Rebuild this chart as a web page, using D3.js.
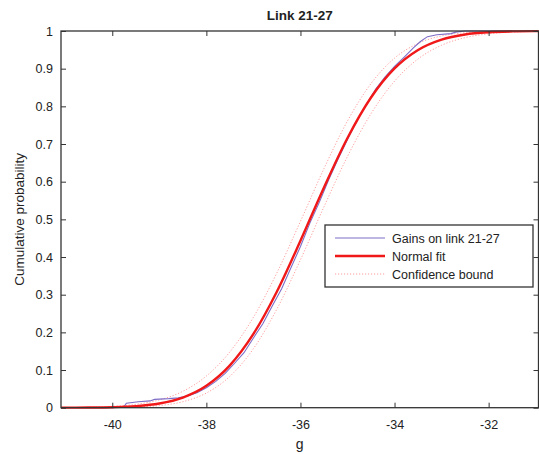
<!DOCTYPE html>
<html><head><meta charset="utf-8">
<script src="https://cdn.jsdelivr.net/npm/d3@7"></script>
<style>
body{margin:0;background:#fff;}
text{font-family:"Liberation Sans",Arial,sans-serif;fill:#222;}
</style></head>
<body><svg id="chart" width="539" height="454"></svg>
<script>
// ---- data ----
const titleText = "Link 21-27";
const xLabel = "g";
const yLabel = "Cumulative probability";
const xTicks = [-40, -38, -36, -34, -32];
const xTickLabels = ["-40", "-38", "-36", "-34", "-32"];
const yTicks = [0, 0.1, 0.2, 0.3, 0.4, 0.5, 0.6, 0.7, 0.8, 0.9, 1];
const yTickLabels = ["0", "0.1", "0.2", "0.3", "0.4", "0.5", "0.6", "0.7", "0.8", "0.9", "1"];
const legendLabels = ["Gains on link 21-27", "Normal fit", "Confidence bound"];

// grid of g values for the fitted curve and bounds
const fitG = [-41.5, -41, -40.5, -40, -39.5, -39, -38.5, -38, -37.5, -37, -36.5, -36, -35.5, -35, -34.5, -34, -33.5, -33, -32.5, -32, -31.5, -31, -30.5];
const fitP = [0.00002, 0.0001, 0.0004, 0.00135, 0.0041, 0.0111, 0.0269, 0.0581, 0.1124, 0.1957, 0.3085, 0.4432, 0.5848, 0.7161, 0.8235, 0.9007, 0.9498, 0.97725, 0.9908, 0.99668, 0.99893, 0.9997, 0.99992];
const lowerP = [0.000005, 0.00002, 0.00011, 0.00048, 0.00177, 0.0057, 0.0159, 0.0389, 0.0832, 0.1567, 0.2621, 0.3926, 0.5334, 0.6672, 0.7806, 0.8668, 0.9258, 0.9622, 0.9824, 0.99255, 0.99714, 0.999, 0.9997];
const upperP = [0.0001, 0.0004, 0.00124, 0.00349, 0.00889, 0.0206, 0.0435, 0.0841, 0.1482, 0.2401, 0.3582, 0.4947, 0.6348, 0.7613, 0.8605, 0.9279, 0.9672, 0.9869, 0.99545, 0.99862, 0.99964, 0.99992, 0.99999];

// empirical CDF (gains on link 21-27)
const empG = [-40.0, -39.75, -39.7, -39.45, -39.2, -39.1, -38.8, -38.6, -38.4, -38.2, -38.0, -37.8, -37.6, -37.4, -37.2, -37.0, -36.8, -36.6, -36.4, -36.2, -36.0, -35.8, -35.6, -35.4, -35.2, -35.0, -34.8, -34.6, -34.4, -34.2, -34.0, -33.8, -33.6, -33.45, -33.3, -33.1, -32.8, -32.7, -32.5, -31.5];
const empP = [0, 0.003, 0.012, 0.016, 0.018, 0.022, 0.024, 0.026, 0.031, 0.040, 0.053, 0.070, 0.091, 0.118, 0.146, 0.185, 0.223, 0.270, 0.316, 0.372, 0.428, 0.49, 0.545, 0.605, 0.66, 0.712, 0.762, 0.805, 0.846, 0.878, 0.906, 0.93, 0.955, 0.972, 0.985, 0.99, 0.993, 0.997, 1.0, 1.0];

// ---- layout ----
const svg = d3.select("#chart");
const L = 61, R = 538.5, T = 31, B = 407.7;
const x = d3.scaleLinear().domain([-41.09, -30.94]).range([L, R]);
const y = d3.scaleLinear().domain([0, 1]).range([B, T]);

svg.append("defs").append("clipPath").attr("id","clip")
  .append("rect").attr("x", L).attr("y", T - 2).attr("width", R - L).attr("height", B - T + 4);

const line = d3.line().x(d => x(d[0])).y(d => y(d[1])).curve(d3.curveMonotoneX);
const lineLin = d3.line().x(d => x(d[0])).y(d => y(d[1]));

const g = svg.append("g").attr("clip-path","url(#clip)");
const pinkStyle = sel => sel.attr("fill","none").attr("stroke","#ff9c9c").attr("stroke-width",1).attr("stroke-dasharray","1.2,1.8");
g.append("path").datum(fitG.map((v,i)=>[v,lowerP[i]])).attr("d", line).call(pinkStyle);
g.append("path").datum(fitG.map((v,i)=>[v,upperP[i]])).attr("d", line).call(pinkStyle);
g.append("path").datum(empG.map((v,i)=>[v,empP[i]])).attr("d", lineLin)
  .attr("fill","none").attr("stroke","#7d6cc6").attr("stroke-width",1.1);
g.append("path").datum(fitG.map((v,i)=>[v,fitP[i]])).attr("d", line)
  .attr("fill","none").attr("stroke","#f01818").attr("stroke-width",2.4);

// axes box
const axCol = "#333";
svg.append("rect").attr("x", L).attr("y", T).attr("width", R - L).attr("height", B - T)
  .attr("fill","none").attr("stroke", axCol).attr("stroke-width",1.3);

const xb = svg.append("g").attr("transform",`translate(0,${B})`)
  .call(d3.axisBottom(x).tickValues(xTicks).tickSizeInner(-5).tickSizeOuter(0).tickPadding(12).tickFormat((d,i) => xTickLabels[i]));
const xt = svg.append("g").attr("transform",`translate(0,${T})`)
  .call(d3.axisTop(x).tickValues(xTicks).tickSizeInner(-5).tickSizeOuter(0).tickFormat(""));
const yl = svg.append("g").attr("transform",`translate(${L},0)`)
  .call(d3.axisLeft(y).tickValues(yTicks).tickSizeInner(-5).tickSizeOuter(0).tickPadding(8).tickFormat((d,i) => yTickLabels[i]));
const yr = svg.append("g").attr("transform",`translate(${R},0)`)
  .call(d3.axisRight(y).tickValues(yTicks).tickSizeInner(-5).tickSizeOuter(0).tickFormat(""));
[xb, xt, yl, yr].forEach(a => {
  a.select(".domain").remove();
  a.selectAll(".tick line").attr("stroke", axCol).attr("stroke-width",1);
  a.selectAll(".tick text").attr("font-size", 12.5).attr("fill","#222")
    .attr("font-family","Liberation Sans, Arial, sans-serif");
});

// title and labels
svg.append("text").attr("x", (L + R) / 2).attr("y", 20).attr("text-anchor","middle")
  .attr("font-size", 13.5).attr("font-weight","bold").text(titleText);
svg.append("text").attr("x", (L + R) / 2).attr("y", 449).attr("text-anchor","middle")
  .attr("font-size", 14).text(xLabel);
svg.append("text").attr("transform",`translate(24,${(T + B) / 2}) rotate(-90)`).attr("text-anchor","middle")
  .attr("font-size", 13.5).text(yLabel);

// legend
const lg = svg.append("g");
lg.append("rect").attr("x", 325).attr("y", 225).attr("width", 208).attr("height", 62)
  .attr("fill","#fff").attr("stroke", axCol).attr("stroke-width",1.3);
const rows = [238, 256, 274];
const styles = [
  s => s.attr("stroke","#7d6cc6").attr("stroke-width",1.1),
  s => s.attr("stroke","#f01818").attr("stroke-width",2.4),
  s => pinkStyle(s)
];
legendLabels.forEach((lab, i) => {
  lg.append("line").attr("x1", 335).attr("x2", 385).attr("y1", rows[i]).attr("y2", rows[i]).call(styles[i]);
  lg.append("text").attr("x", 392).attr("y", rows[i] + 4.5).attr("font-size", 12.5).text(lab);
});
</script></body></html>
